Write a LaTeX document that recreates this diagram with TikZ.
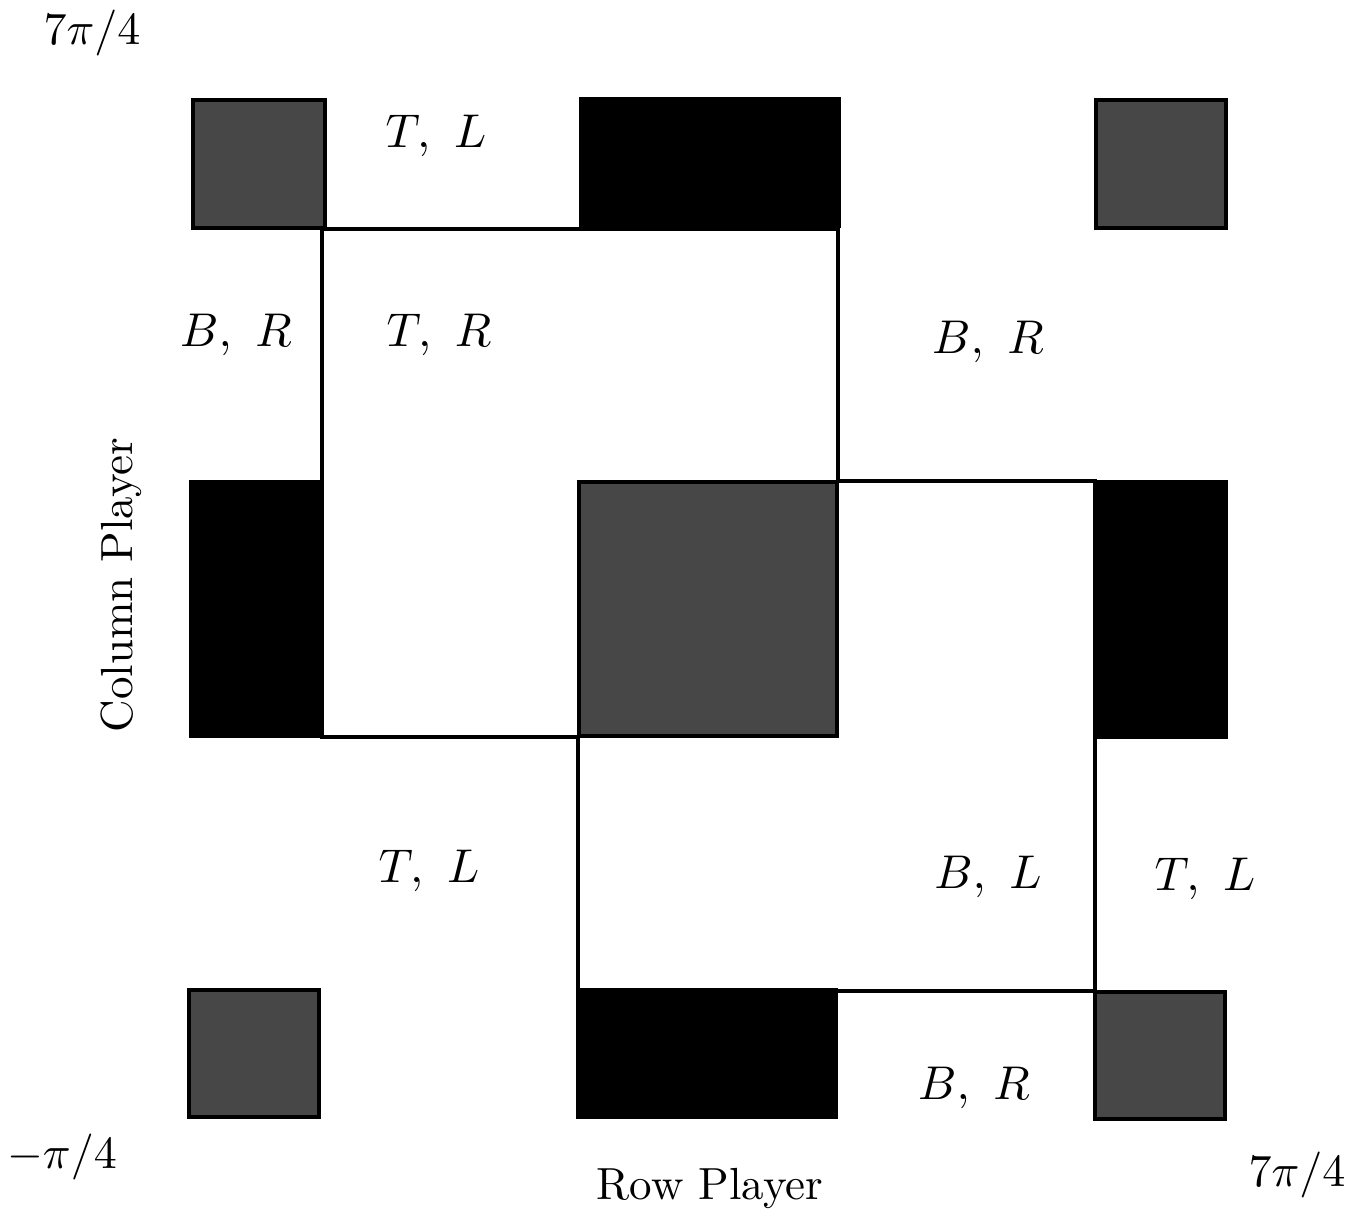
\documentclass[tikz,border=0pt]{standalone}
\usepackage{graphicx}
\newcommand{\cellsz}[1]{\scalebox{2.37}{#1}}
\newcommand{\ticksz}[1]{\scalebox{2.3}{#1}}
\newcommand{\axissz}[1]{\scalebox{2.25}{#1}}
\begin{document}
\begin{tikzpicture}[x=0.5pt,y=-0.5pt,
  shaded/.style={fill=black!72,draw=black,line width=2pt},
  solid/.style={fill=black,draw=black,line width=1pt},
  region/.style={draw=black,line width=1.6pt,line join=miter},
  cell/.style={anchor=base,inner sep=0pt},
  tick/.style={anchor=base,inner sep=0pt},
  axis/.style={anchor=base,inner sep=0pt}]
\useasboundingbox (0,0) rectangle (1360,1216);

% outline of the region
\draw[region] (322,229) -- (838,229) -- (838,481) -- (1095,481) -- (1095,991)
  -- (578,991) -- (578,737) -- (322,737) -- cycle;

% grey squares
\draw[shaded] (193,100) rectangle (325,228);
\draw[shaded] (1096,100) rectangle (1226,228);
\draw[shaded] (579,482) rectangle (837,736);
\draw[shaded] (189,990) rectangle (319,1117);
\draw[shaded] (1095,992) rectangle (1225,1119);

% black squares
\draw[solid] (580,98) rectangle (840,227);
\draw[solid] (190,481) rectangle (321,737);
\draw[solid] (1095,481) rectangle (1227,738);
\draw[solid] (577,989) rectangle (837,1118);

% strategy labels
\node[cell] (tl1) at (436,147) {\cellsz{$T,\ L$}};
\node[cell] (br1) at (236,346) {\cellsz{$B,\ R$}};
\node[cell] (tr1) at (439,346) {\cellsz{$T,\ R$}};
\node[cell] (br2) at (988,353) {\cellsz{$B,\ R$}};
\node[cell] (tl2) at (429,882) {\cellsz{$T,\ L$}};
\node[cell] (bl1) at (988,888) {\cellsz{$B,\ L$}};
\node[cell] (tl3) at (1205,890) {\cellsz{$T,\ L$}};
\node[cell] (br3) at (974,1099) {\cellsz{$B,\ R$}};

% axis ranges and titles
\node[tick] (ymax) at (92,44) {\ticksz{$7\pi/4$}};
\node[tick] (xmin) at (62,1168) {\ticksz{$-\pi/4$}};
\node[tick] (xmax) at (1297,1186) {\ticksz{$7\pi/4$}};
\node[axis] (xlab) at (710,1199) {\axissz{Row Player}};
\node[axis,rotate=90] (ylab) at (132,585) {\axissz{Column Player}};
\end{tikzpicture}
\end{document}
